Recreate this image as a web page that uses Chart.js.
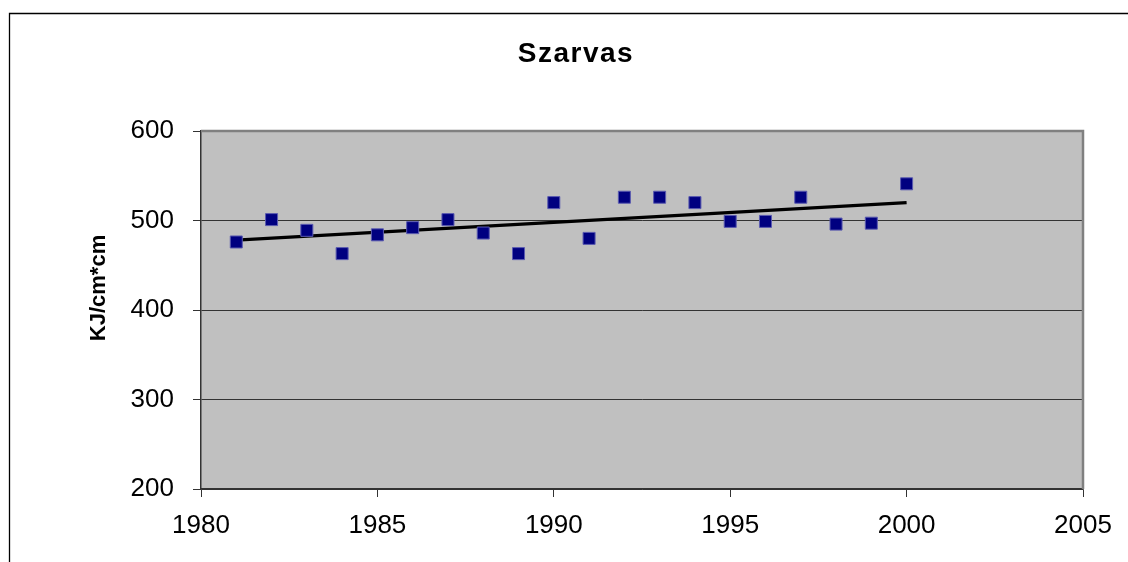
<!DOCTYPE html>
<html>
<head>
<meta charset="utf-8">
<script src="https://cdn.jsdelivr.net/npm/chart.js@4"></script>
<style>
html,body{margin:0;padding:0;background:#fff;}
canvas{display:block;}
</style>
</head>
<body>
<canvas id="c" width="1128" height="562"></canvas>
<script>
const chartTitle = "Szarvas";
const yAxisTitle = "KJ/cm*cm";
const years = [1981,1982,1983,1984,1985,1986,1987,1988,1989,1990,1991,1992,1993,1994,1995,1996,1997,1998,1999,2000];
const values = [476,501,489,463,484,492,501,486,463,520,480,526,526,520,499,499,526,496,497,541];
const trendYears = [1981, 2000];
const trendValues = [478, 520];
const xTicks = [1980,1985,1990,1995,2000,2005];
const yTicks = [200,300,400,500,600];

const FONT = "'Liberation Sans', Arial, sans-serif";

const decor = {
  id: 'decor',
  beforeDraw(chart) {
    const {ctx, chartArea: a} = chart;
    ctx.save();
    ctx.fillStyle = '#c0c0c0';
    ctx.fillRect(a.left, a.top, a.right - a.left, a.bottom - a.top);
    // outer frame (top and left only visible)
    ctx.strokeStyle = '#000';
    ctx.lineWidth = 1.3;
    ctx.beginPath();
    ctx.moveTo(9.5, 562);
    ctx.lineTo(9.5, 13.5);
    ctx.lineTo(1128, 13.5);
    ctx.stroke();
    ctx.restore();
  },
  afterDatasetsDraw(chart) {
    const {ctx, chartArea: a} = chart;
    ctx.save();
    ctx.strokeStyle = '#808080';
    ctx.lineWidth = 2.5;
    ctx.beginPath();
    ctx.moveTo(a.left, a.top);
    ctx.lineTo(a.right, a.top);
    ctx.lineTo(a.right, a.bottom);
    ctx.stroke();
    // title
    ctx.fillStyle = '#000';
    ctx.font = "bold 28px " + FONT;
    try { ctx.letterSpacing = '1.5px'; } catch(e) {}
    ctx.textAlign = 'center';
    ctx.textBaseline = 'alphabetic';
    ctx.fillText(chartTitle, 576, 62);
    try { ctx.letterSpacing = '0px'; } catch(e) {}
    // y-axis title
    ctx.translate(105, 288);
    ctx.rotate(-Math.PI / 2);
    ctx.font = "bold 22px " + FONT;
    ctx.textAlign = 'center';
    ctx.fillText(yAxisTitle, 0, 0);
    ctx.restore();
  }
};

new Chart(document.getElementById('c'), {
  type: 'scatter',
  data: {
    datasets: [
      {
        label: 'data',
        data: years.map((y, i) => ({x: y, y: values[i]})),
        pointStyle: 'rect',
        pointRadius: 8.5,
        pointHoverRadius: 8.5,
        backgroundColor: '#000080',
        borderColor: '#5a5ab0',
        borderWidth: 1,
        order: 1
      },
      {
        label: 'trend',
        data: trendYears.map((y, i) => ({x: y, y: trendValues[i]})),
        showLine: true,
        pointRadius: 0,
        borderColor: '#000',
        borderWidth: 3.2,
        order: 2
      }
    ]
  },
  options: {
    responsive: false,
    devicePixelRatio: 1,
    animation: false,
    layout: {padding: {top: 131, right: 45, left: 0, bottom: 0}},
    plugins: {legend: {display: false}, title: {display: false}, tooltip: {enabled: false}},
    scales: {
      x: {
        type: 'linear',
        min: 1980, max: 2005,
        afterBuildTicks: s => { s.ticks = xTicks.map(v => ({value: v})); },
        afterFit: s => { s.height = 73; },
        grid: {drawOnChartArea: false, drawTicks: true, tickLength: 8, tickColor: '#333', color: '#333'},
        border: {display: true, color: '#333', width: 1.5},
        ticks: {color: '#000', font: {family: FONT, size: 26}, padding: 13, maxRotation: 0,
                callback: v => String(v)}
      },
      y: {
        min: 200, max: 600,
        afterBuildTicks: s => { s.ticks = yTicks.map(v => ({value: v})); },
        afterFit: s => { s.width = 201; },
        grid: {color: '#333', lineWidth: 1, drawTicks: true, tickLength: 8, tickColor: '#333'},
        border: {display: true, color: '#333', width: 1.5},
        ticks: {color: '#000', font: {family: FONT, size: 26}, padding: 19,
                callback: v => String(v)}
      }
    }
  },
  plugins: [decor]
});
</script>
</body>
</html>
